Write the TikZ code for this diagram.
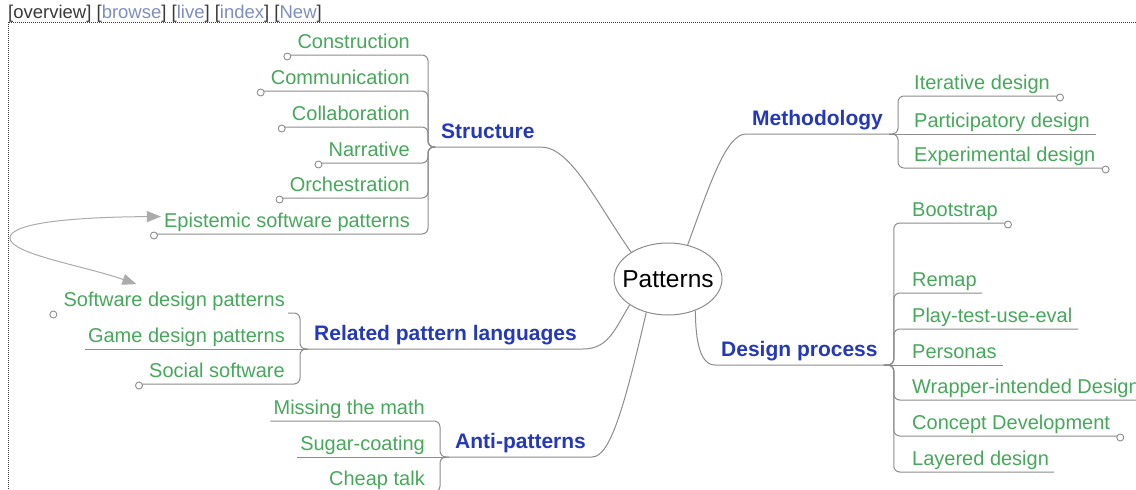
\documentclass[tikz,border=0pt]{standalone}
\usepackage{fontspec}
\setmainfont{Liberation Sans}
\usetikzlibrary{arrows.meta,positioning,shapes.geometric}
\definecolor{leafgreen}{HTML}{45A85A}
\definecolor{catblue}{HTML}{2438B8}
\definecolor{linkgray}{HTML}{8C8C8C}
\definecolor{xrefgray}{HTML}{ABABAB}
\definecolor{menublue}{HTML}{7D8FBF}
\definecolor{menugray}{HTML}{3A3A3A}

\begin{document}
\begin{tikzpicture}[
    x=1pt, y=-1pt,
    root/.style={draw=linkgray,line width=1pt,ellipse,minimum width=108pt,minimum height=72pt,inner xsep=-12pt,inner ysep=0pt,font=\fontsize{24.5}{28}\selectfont},
    cat/.style={font=\fontsize{21}{24}\selectfont\bfseries,text=catblue,inner xsep=6pt,inner ysep=8.5pt,text depth=0pt},
    leaf/.style={font=\fontsize{20}{23}\selectfont,text=leafgreen,inner xsep=3pt,inner ysep=6pt,text depth=0pt},
    link/.style={draw=linkgray,line width=1pt},
    fork/.style={link,rounded corners=6pt},
    knob/.style={draw=linkgray,line width=0.9pt,fill=white},
    xref/.style={draw=xrefgray,line width=1pt,{Triangle[length=14pt,width=11pt]}-{Triangle[length=14pt,width=11pt]}}
]
\useasboundingbox (0,0) rectangle (1136,490);
\clip (0,0) rectangle (1136,490);

\node[anchor=base west,inner sep=0pt,font=\fontsize{18.5}{21}\selectfont,text=menugray] (menu) at (8,18)
  {[overview] [\textcolor{menublue}{browse}] [\textcolor{menublue}{live}] [\textcolor{menublue}{index}] [\textcolor{menublue}{New}]};
\draw[menugray,line width=1pt,dash pattern=on 1pt off 1pt] (1136,22) -- (8,22) -- (8,490);

\node[root] (root) at (668,279) {Patterns};

\node[cat,anchor=south west] (struct) at (435,147) {Structure};
\node[cat,anchor=south west] (rel) at (308,349) {Related pattern languages};
\node[cat,anchor=south west] (anti) at (449,457) {Anti-patterns};
\node[cat,anchor=south west] (meth) at (746,134) {Methodology};
\node[cat,anchor=south west] (proc) at (715,365) {Design process};

\foreach \n/\y/\t in {constr/55/Construction, commun/91/Communication, collab/127/Collaboration,
    narr/163/Narrative, orch/198/Orchestration, epist/234/Epistemic software patterns}
  \node[leaf,anchor=south east] (\n) at (413,\y) {\t};
\foreach \n/\y/\t in {sdp/313/Software design patterns, gdp/349/Game design patterns, social/384/Social software}
  \node[leaf,anchor=south east] (\n) at (288,\y) {\t};
\foreach \n/\y/\t in {math/421/Missing the math, sugar/457/Sugar-coating, cheap/492/Cheap talk}
  \node[leaf,anchor=south east] (\n) at (428,\y) {\t};
\foreach \n/\y/\t in {iter/96/Iterative design, partic/134/Participatory design, exper/168/Experimental design}
  \node[leaf,anchor=south west] (\n) at (911,\y) {\t};
\foreach \n/\y/\t in {boot/223/Bootstrap, remap/293/Remap, play/329/Play-test-use-eval, pers/365/Personas,
    wrap/400/Wrapper-intended Design, concept/436/Concept Development, layer/472/Layered design}
  \node[leaf,anchor=south west] (\n) at (909,\y) {\t};

\draw[link] (root.144) .. controls +(-35,-50) and +(30,0) .. (struct.south east) -- (struct.south west);
\draw[link] (root.214) .. controls +(-15,25) and +(25,0) .. (rel.south east) -- (rel.south west);
\draw[link] (root.237) .. controls +(-22,95) and +(18,0) .. (anti.south east) -- (anti.south west);
\draw[link] (root.60) .. controls +(22,-60) and +(-20,0) .. (meth.south west) -- (meth.south east);
\draw[link] (root.311) .. controls +(0,30) and +(-15,0) .. (proc.south west) -- (proc.south east);

\foreach \n in {constr,commun,collab,narr,orch,epist}
  \draw[fork] (struct.south west) -- ++(-7,0) |- (\n.south east) -- ([xshift=-7pt]\n.south west);
\draw[fork] (rel.south west) -- ++(-8,0) |- (sdp.south east);
\draw[link] (rel.south west) -- (gdp.south west);
\draw[fork] (rel.south west) -- ++(-8,0) |- (social.south east) -- ([xshift=-7pt]social.south west);
\draw[fork] (anti.south west) -- ++(-9,0) |- (math.south east) -- (math.south west);
\draw[link] (anti.south west) -- (sugar.south west);
\draw[fork] (anti.south west) -- ++(-9,0) |- (cheap.south east) -- (cheap.south west);
\foreach \n/\e in {iter/7,exper/7}
  \draw[fork] (meth.south east) -- ++(9,0) |- (\n.south west) -- ([xshift=\e pt]\n.south east);
\draw[link] (meth.south east) -- ([xshift=3pt]partic.south east);
\foreach \n/\e in {boot/7,remap/2,play/3,wrap/3,concept/7,layer/2}
  \draw[fork] (proc.south east) -- ++(10,0) |- (\n.south west) -- ([xshift=\e pt]\n.south east);
\draw[link] (proc.south east) -- ([xshift=3pt]pers.south east);

\foreach \n in {constr,commun,collab,narr,orch,epist,sdp,social}
  \draw[knob] ([xshift=-7pt,yshift=-1.5pt]\n.south west) circle (3.5pt);
\foreach \n in {iter,exper,boot,concept}
  \draw[knob] ([xshift=7pt,yshift=-1.5pt]\n.south east) circle (3.5pt);

\draw[xref] ([yshift=4pt]epist.west) .. controls (80,217) and (10,222) .. (10,238)
  .. controls (10,254) and (85,266) .. ([xshift=76pt,yshift=2pt]sdp.north west);
\end{tikzpicture}
\end{document}
